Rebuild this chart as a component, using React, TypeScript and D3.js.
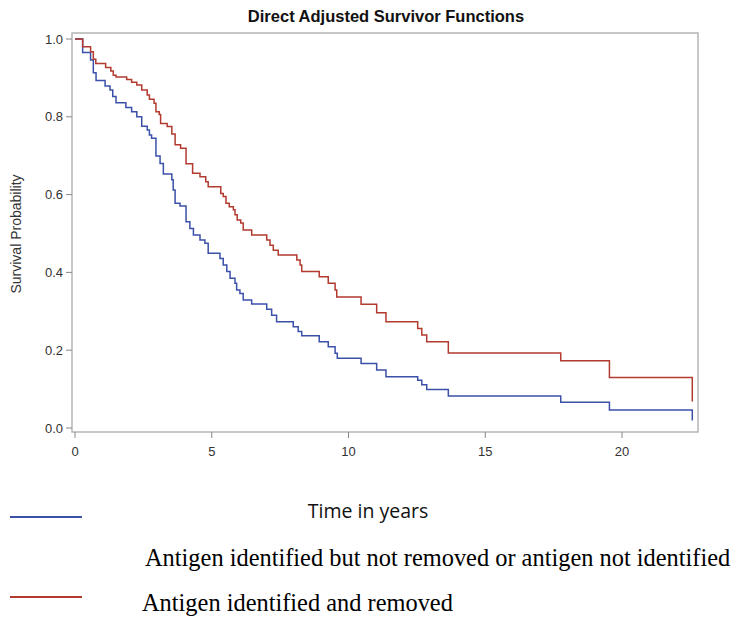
import React from "react";
import * as d3 from "d3";

const title = "Direct Adjusted Survivor Functions";
const yAxisLabel = "Survival Probability";
const xAxisLabel = "Time in years";
const xTicks = [0, 5, 10, 15, 20];
const yTicks = [0, 0.2, 0.4, 0.6, 0.8, 1.0];

const seriesNames = [
  "Antigen identified but not removed or antigen not identified",
  "Antigen identified and removed",
];
const seriesColors = ["#3B50A8", "#B23A2F"];

const blueTimes = [0, 0.28, 0.57, 0.67, 0.77, 1.10, 1.28, 1.38, 1.50, 1.86, 2.07, 2.26, 2.44, 2.64, 2.72, 2.80, 2.96, 3.11, 3.23, 3.54, 3.59, 3.66, 3.84, 4.06, 4.20, 4.33, 4.57, 4.75, 4.87, 5.30, 5.42, 5.55, 5.67, 5.85, 5.91, 6.03, 6.15, 6.46, 7.01, 7.19, 7.37, 7.98, 8.16, 8.29, 8.93, 9.26, 9.51, 9.59, 10.46, 11.03, 11.37, 12.53, 12.68, 12.86, 13.65, 17.76, 19.54, 22.57];
const blueSurv = [1.0, 0.965, 0.946, 0.913, 0.893, 0.879, 0.869, 0.852, 0.836, 0.824, 0.813, 0.800, 0.776, 0.766, 0.753, 0.745, 0.699, 0.680, 0.653, 0.638, 0.612, 0.578, 0.571, 0.530, 0.513, 0.496, 0.483, 0.475, 0.449, 0.436, 0.419, 0.402, 0.385, 0.372, 0.355, 0.346, 0.329, 0.319, 0.305, 0.290, 0.273, 0.260, 0.248, 0.237, 0.222, 0.209, 0.192, 0.179, 0.166, 0.149, 0.132, 0.123, 0.111, 0.099, 0.082, 0.066, 0.046, 0.019];

const redTimes = [0, 0.28, 0.57, 0.67, 0.76, 1.12, 1.31, 1.40, 1.50, 1.89, 2.07, 2.26, 2.44, 2.64, 2.72, 2.89, 2.96, 3.08, 3.13, 3.37, 3.54, 3.66, 3.86, 4.06, 4.30, 4.57, 4.78, 4.87, 5.33, 5.42, 5.52, 5.64, 5.79, 5.85, 5.93, 6.06, 6.15, 6.46, 7.01, 7.13, 7.25, 7.43, 8.11, 8.23, 8.29, 8.93, 9.26, 9.51, 9.57, 10.46, 11.03, 11.37, 12.53, 12.68, 12.86, 13.65, 17.76, 19.54, 22.57];
const redSurv = [1.0, 0.980, 0.967, 0.948, 0.937, 0.927, 0.918, 0.907, 0.902, 0.896, 0.889, 0.882, 0.869, 0.856, 0.845, 0.835, 0.813, 0.806, 0.783, 0.775, 0.756, 0.728, 0.719, 0.679, 0.655, 0.646, 0.633, 0.620, 0.603, 0.595, 0.578, 0.569, 0.561, 0.548, 0.535, 0.527, 0.509, 0.496, 0.483, 0.470, 0.457, 0.445, 0.432, 0.419, 0.402, 0.389, 0.372, 0.355, 0.337, 0.318, 0.296, 0.273, 0.256, 0.239, 0.222, 0.193, 0.173, 0.130, 0.068];

export default function App() {
  const W = 744;
  const H = 625;
  const frame = { left: 72, right: 698, top: 33, bottom: 432 };
  const x = d3.scaleLinear().domain([0, 20]).range([75, 622]);
  const y = d3.scaleLinear().domain([0, 1]).range([428, 39]);

  const line = d3
    .line<[number, number]>()
    .x((d) => x(d[0]))
    .y((d) => y(d[1]))
    .curve(d3.curveStepAfter);

  const series = [
    { times: blueTimes, surv: blueSurv },
    { times: redTimes, surv: redSurv },
  ];

  const tickFont = "'Liberation Sans', Arial, sans-serif";

  return (
    <svg
      width={W}
      height={H}
      style={{ position: "absolute", left: 0, top: 0, background: "#fff" }}
    >
      <text
        x={386}
        y={22}
        textAnchor="middle"
        fontFamily={tickFont}
        fontWeight="bold"
        fontSize={16.5}
        fill="#111"
      >
        {title}
      </text>
      <rect
        x={frame.left}
        y={frame.top}
        width={frame.right - frame.left}
        height={frame.bottom - frame.top}
        fill="none"
        stroke="#b5b5b5"
        strokeWidth={1.5}
      />
      {yTicks.map((t) => (
        <g key={"y" + t}>
          <line x1={frame.left - 6} x2={frame.left} y1={y(t)} y2={y(t)} stroke="#888" strokeWidth={1} />
          <text
            x={frame.left - 9}
            y={y(t)}
            dy="0.35em"
            textAnchor="end"
            fontFamily={tickFont}
            fontSize={13}
            fill="#333"
          >
            {d3.format(".1f")(t)}
          </text>
        </g>
      ))}
      {xTicks.map((t) => (
        <g key={"x" + t}>
          <line x1={x(t)} x2={x(t)} y1={frame.bottom} y2={frame.bottom + 6} stroke="#888" strokeWidth={1} />
          <text
            x={x(t)}
            y={frame.bottom + 24}
            textAnchor="middle"
            fontFamily={tickFont}
            fontSize={13}
            fill="#333"
          >
            {t}
          </text>
        </g>
      ))}
      <text
        transform={`translate(21, 234) rotate(-90)`}
        textAnchor="middle"
        fontFamily={tickFont}
        fontSize={14}
        fill="#333"
      >
        {yAxisLabel}
      </text>
      {series.map((s, i) => (
        <path
          key={i}
          d={line(s.times.map((t, j) => [t, s.surv[j]] as [number, number])) || ""}
          fill="none"
          stroke={seriesColors[i]}
          strokeWidth={1.5}
        />
      ))}
      <text
        x={368}
        y={518}
        textAnchor="middle"
        fontFamily="'Open Sans', 'Noto Sans', sans-serif"
        fontSize={19.5}
        fill="#111"
      >
        {xAxisLabel}
      </text>
      <line x1={10} x2={82} y1={517} y2={517} stroke={seriesColors[0]} strokeWidth={2} />
      <text
        x={145}
        y={566}
        fontFamily="'Liberation Serif', 'Times New Roman', serif"
        fontSize={24.4}
        fill="#000"
      >
        {seriesNames[0]}
      </text>
      <line x1={10} x2={82} y1={597} y2={597} stroke={seriesColors[1]} strokeWidth={2} />
      <text
        x={142}
        y={611}
        fontFamily="'Liberation Serif', 'Times New Roman', serif"
        fontSize={24.4}
        fill="#000"
      >
        {seriesNames[1]}
      </text>
    </svg>
  );
}
